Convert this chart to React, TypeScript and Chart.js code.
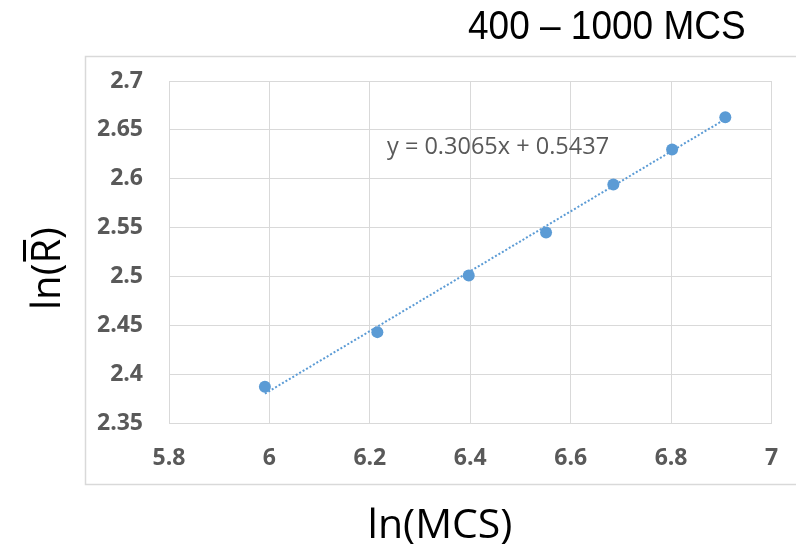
import React, { useEffect, useRef } from "react";
import { Chart, registerables } from "chart.js";

Chart.register(...registerables);

// ---- data ----
const lnMCS = [5.991, 6.215, 6.397, 6.551, 6.685, 6.802, 6.908];
const lnR = [2.387, 2.443, 2.501, 2.545, 2.594, 2.630, 2.663];
const trendX = [5.991, 6.908];
const trendY = [2.380, 2.661];
const xTicks = [5.8, 6, 6.2, 6.4, 6.6, 6.8, 7];
const xTickLabels = ["5.8", "6", "6.2", "6.4", "6.6", "6.8", "7"];
const yTicks = [2.35, 2.4, 2.45, 2.5, 2.55, 2.6, 2.65, 2.7];
const yTickLabels = ["2.35", "2.4", "2.45", "2.5", "2.55", "2.6", "2.65", "2.7"];
const chartTitle = "400 \u2013 1000 MCS";
const equationText = "y = 0.3065x + 0.5437";
const xTitle = "ln(MCS)";
const yTitlePre = "ln(";
const yTitleR = "R";
const yTitlePost = ")";

const BLUE = "#5b9bd5";
const GRID = "#d9d9d9";
const TICK = "#595959";

const textPlugin = {
  id: "textPlugin",
  beforeDraw(chart: any) {
    const ctx = chart.ctx;
    ctx.save();
    ctx.strokeStyle = GRID;
    ctx.lineWidth = 1.5;
    ctx.strokeRect(85.5, 56.5, 800, 428);
    ctx.restore();
  },
  afterDraw(chart: any) {
    const ctx = chart.ctx;
    ctx.save();
    // title
    ctx.fillStyle = "#000";
    ctx.font = '37px "Liberation Sans", Arial, sans-serif';
    ctx.textAlign = "left";
    ctx.textBaseline = "alphabetic";
    ctx.save();
    ctx.translate(468, 39);
    ctx.scale(1, 1.08);
    ctx.fillText(chartTitle, 0, 0);
    ctx.restore();

    // equation
    ctx.fillStyle = TICK;
    ctx.font = '23.5px "Open Sans", sans-serif';
    ctx.fillText(equationText, 387, 154);

    // x title
    ctx.fillStyle = "#000";
    ctx.font = '41px "Open Sans", sans-serif';
    ctx.textAlign = "center";
    ctx.fillText(xTitle, 440, 538);

    // y title rotated
    ctx.save();
    ctx.translate(60, 310);
    ctx.rotate(-Math.PI / 2);
    ctx.font = '40px "Open Sans", sans-serif';
    ctx.textAlign = "left";
    const w1 = ctx.measureText(yTitlePre).width;
    const wR = ctx.measureText(yTitleR).width;
    ctx.fillText(yTitlePre, 0, 0);
    ctx.fillText(yTitleR, w1, 0);
    ctx.fillText(yTitlePost, w1 + wR, 0);
    ctx.fillRect(w1 + 2, -37, wR - 3, 3);
    ctx.restore();

    ctx.restore();
  },
};

const zeroPad = (s: any) => {
  s.paddingLeft = 0;
  s.paddingRight = 0;
  s.paddingTop = 0;
  s.paddingBottom = 0;
};

export default function App() {
  const ref = useRef<HTMLCanvasElement | null>(null);
  useEffect(() => {
    if (!ref.current) return;
    const chart = new Chart(ref.current, {
      type: "scatter",
      data: {
        datasets: [
          {
            data: lnMCS.map((x, i) => ({ x, y: lnR[i] })),
            backgroundColor: BLUE,
            borderColor: BLUE,
            borderWidth: 0,
            pointRadius: 6,
            pointHoverRadius: 6,
          },
          {
            data: trendX.map((x, i) => ({ x, y: trendY[i] })),
            showLine: true,
            borderColor: BLUE,
            borderWidth: 2,
            borderDash: [2, 2],
            pointRadius: 0,
            pointHoverRadius: 0,
            fill: false,
          },
        ],
      },
      options: {
        responsive: false,
        animation: false,
        devicePixelRatio: 1,
        events: [],
        layout: { padding: { left: 85, top: 81, right: 24.5, bottom: 68 } },
        plugins: {
          legend: { display: false },
          tooltip: { enabled: false },
          title: { display: false },
        },
        scales: {
          x: {
            type: "linear",
            min: 5.8,
            max: 7,
            afterBuildTicks: (s: any) => {
              s.ticks = xTicks.map((v) => ({ value: v }));
            },
            afterFit: (s: any) => {
              s.height = 60;
              zeroPad(s);
            },
            ticks: {
              autoSkip: false,
              maxRotation: 0,
              padding: 22,
              color: TICK,
              font: { family: "Open Sans", size: 23, weight: "bold" },
              callback: (_v: any, i: number) => xTickLabels[i],
            },
            grid: { color: GRID, lineWidth: 1, drawTicks: false },
            border: { display: true, color: GRID, width: 1 },
          },
          y: {
            type: "linear",
            min: 2.35,
            max: 2.7,
            afterBuildTicks: (s: any) => {
              s.ticks = yTicks.map((v) => ({ value: v }));
            },
            afterFit: (s: any) => {
              s.width = 84;
              zeroPad(s);
            },
            ticks: {
              autoSkip: false,
              padding: 26,
              color: TICK,
              font: { family: "Open Sans", size: 23, weight: "bold" },
              callback: (_v: any, i: number) => yTickLabels[i],
            },
            grid: { color: GRID, lineWidth: 1, drawTicks: false },
            border: { display: true, color: GRID, width: 1 },
          },
        },
      },
      plugins: [textPlugin],
    } as any);
    return () => chart.destroy();
  }, []);
  return (
    <div style={{ position: "fixed", left: 0, top: 0, width: 796, height: 551, background: "#fff" }}>
      <canvas ref={ref} width={796} height={551} style={{ display: "block" }} />
    </div>
  );
}
